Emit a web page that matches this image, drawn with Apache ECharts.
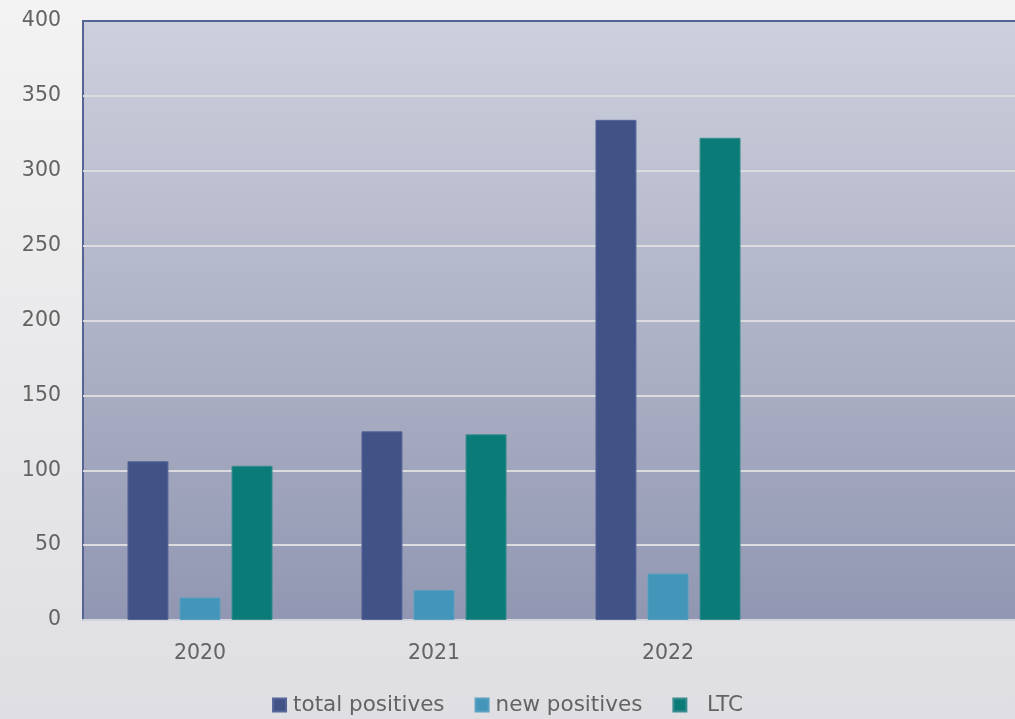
<!DOCTYPE html>
<html><head><meta charset="utf-8">
<script src="https://cdn.jsdelivr.net/npm/echarts@6/dist/echarts.min.js"></script>
<style>html,body{margin:0;padding:0;}#c{width:1015px;height:719px;}</style>
</head><body><div id="c"></div>
<script>
const categories = ['2020', '2021', '2022', ''];
const totalPositives = [106, 126, 334, null];
const newPositives = [15, 20, 31, null];
const ltc = [103, 124, 322, null];
const seriesNames = ['total positives', 'new positives', '  LTC'];

const chart = echarts.init(document.getElementById('c'));
const font = '"DejaVu Sans", sans-serif';
const grad = (a, b) => new echarts.graphic.LinearGradient(0, 0, 0, 1, [{offset: 0, color: a}, {offset: 1, color: b}]);
chart.setOption({
  animation: false,
  backgroundColor: grad('#f3f3f3', '#dfdfe3'),
  textStyle: {fontFamily: font},
  grid: {left: 83, right: -4, top: 21, bottom: 99, show: true, outerBoundsMode: 'none', containLabel: false,
    backgroundColor: grad('#cdd0dc', '#9197b2'), borderColor: '#556494', borderWidth: 2},
  legend: {bottom: -2, left: 'center', itemWidth: 13, itemHeight: 13, itemGap: 30,
    textStyle: {fontSize: 21.5, color: '#636363', fontFamily: font, padding: [0, 0, 0, 2]}, icon: 'rect'},
  xAxis: {type: 'category', data: categories,
    axisLine: {lineStyle: {color: '#d4d4dc', width: 2}}, axisTick: {show: false},
    axisLabel: {fontSize: 20.5, color: '#636363', margin: 23}},
  yAxis: {type: 'value', min: 0, max: 400, interval: 50,
    axisLine: {show: false}, axisTick: {show: false},
    axisLabel: {fontSize: 20.5, color: '#636363', margin: 22},
    splitLine: {showMaxLine: false, lineStyle: {color: '#dcdcdf', width: 2}}},
  series: [
    {name: seriesNames[0], type: 'bar', data: totalPositives, barGap: '27%', barCategoryGap: '38%',
      itemStyle: {color: '#415287', borderColor: '#566699', borderWidth: 1}},
    {name: seriesNames[1], type: 'bar', data: newPositives,
      itemStyle: {color: '#4395b9', borderColor: '#5aa0c0', borderWidth: 1}},
    {name: seriesNames[2], type: 'bar', data: ltc,
      itemStyle: {color: '#0b7b78', borderColor: '#3a8d8f', borderWidth: 1}}
  ]
});
</script></body></html>
